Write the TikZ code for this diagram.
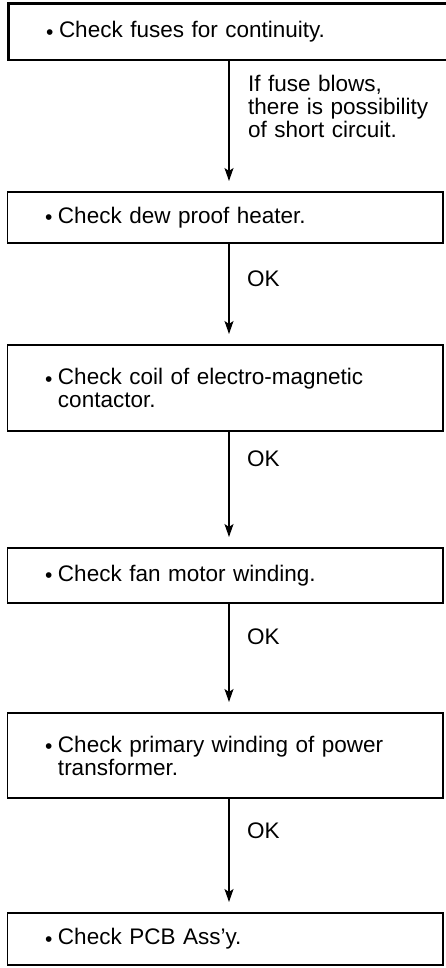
\documentclass[tikz,border=0pt]{standalone}
\usepackage{fontspec}
\setmainfont{Liberation Sans}
\usetikzlibrary{arrows.meta}
\newcommand\bul{\makebox[13pt][l]{\raisebox{-1.5pt}{\fontsize{21}{21}\selectfont •}}}
\begin{document}
\begin{tikzpicture}[x=1pt,y=-1pt,
  txt/.style={font=\fontsize{22.5}{23}\selectfont},
  stepbox/.style={txt, draw, line width=1.2pt, rectangle, anchor=north west,
    outer sep=0pt, inner xsep=37.5pt, inner ysep=0pt,
    minimum width=435.5pt, text width=360.5pt, align=left},
  lbl/.style={txt, inner sep=0pt, outer sep=0pt, anchor=base west, align=left},
  arr/.style={line width=1.3pt, -{Stealth[length=13pt,width=9pt,inset=3pt]}, shorten >=11pt}]
\useasboundingbox (0,0) rectangle (445,968);
\coordinate (ax) at (229,0);
\node[stepbox, line width=2.6pt, minimum width=445pt, text width=370pt, minimum height=56.5pt] (b1) at (8.5,3.5) {\bul Check fuses for continuity.};
\node[stepbox, minimum height=51pt] (b2) at (7.5,192) {\bul Check dew proof heater.};
\node[stepbox, minimum height=86pt] (b3) at (7.5,345) {\bul Check coil of electro-magnetic\\\hspace*{13pt}contactor.};
\node[stepbox, minimum height=55pt] (b4) at (7.5,548) {\bul Check fan motor winding.};
\node[stepbox, minimum height=85pt] (b5) at (7.5,713) {\bul Check primary winding of power\\\hspace*{13pt}transformer.};
\node[stepbox, minimum height=52pt] (b6) at (7.5,913) {\bul Check PCB Ass'y.};
\node[lbl, text width=195pt] (l1) at (248,92) {If fuse blows,\\there is possibility\\of short circuit.};
\node[lbl] (l2) at (247,286) {OK};
\node[lbl] (l3) at (247,466) {OK};
\node[lbl] (l4) at (247,644) {OK};
\node[lbl] (l5) at (247,838) {OK};
\draw[arr] (b1.south -| ax) -- (b2.north -| ax);
\draw[arr] (b2.south -| ax) -- (b3.north -| ax);
\draw[arr] (b3.south -| ax) -- (b4.north -| ax);
\draw[arr] (b4.south -| ax) -- (b5.north -| ax);
\draw[arr] (b5.south -| ax) -- (b6.north -| ax);
\end{tikzpicture}
\end{document}
